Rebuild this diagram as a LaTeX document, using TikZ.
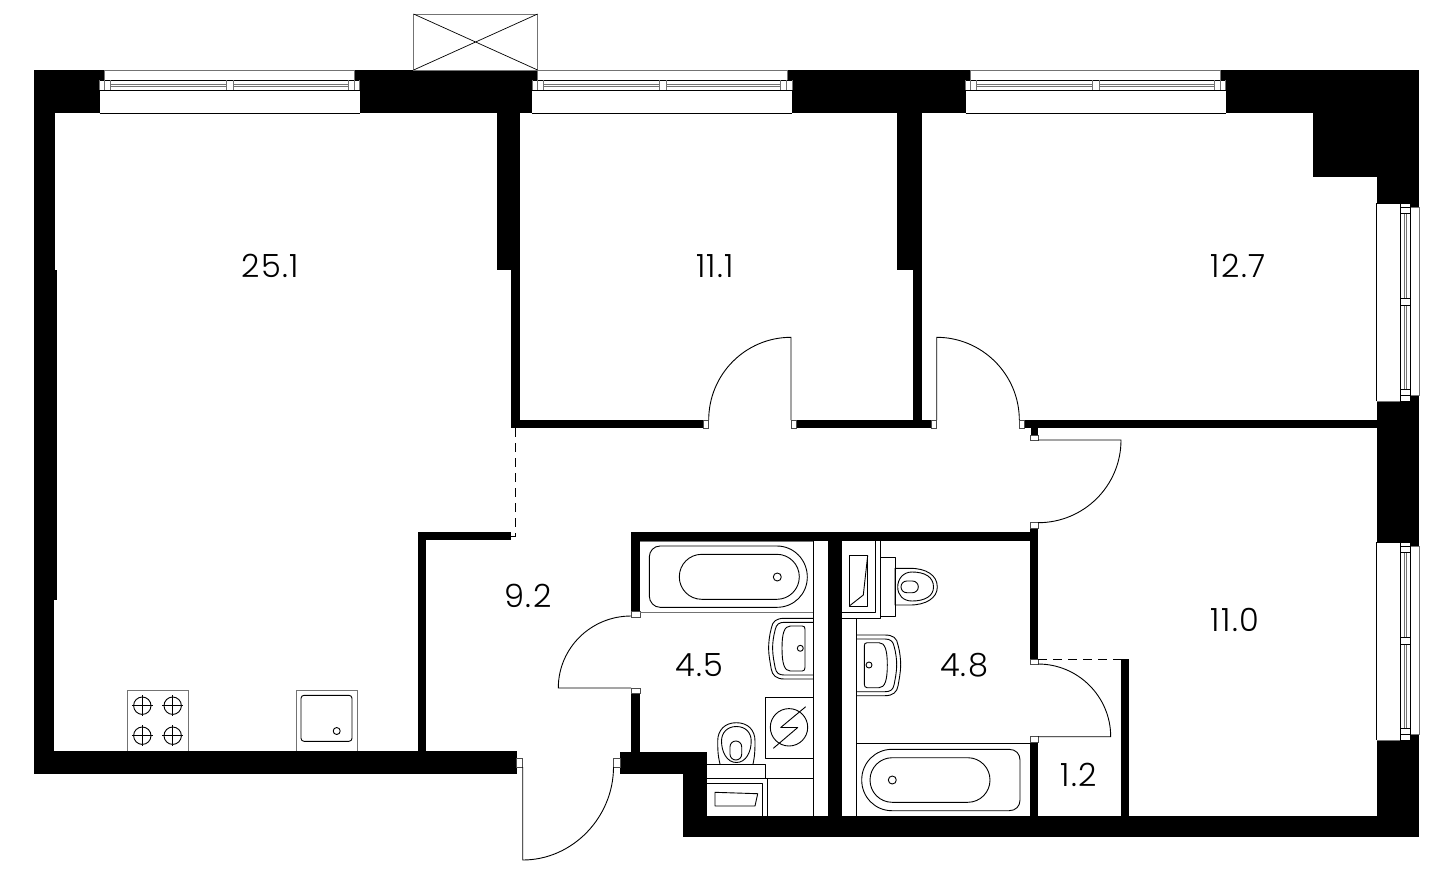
\documentclass[tikz,border=0pt]{standalone}
\usepackage{fontspec}
\setmainfont[LetterSpace=4]{Poppins Light}
\tikzset{
  wall/.style={fill=black},
  thin line/.style={draw=black,line width=0.9pt,line join=round},
  grey line/.style={draw=black!55,line width=1pt},
  stub/.style={draw=black!70,fill=white,line width=0.8pt},
  dashline/.style={draw=black,line width=0.8pt,dash pattern=on 9pt off 6pt},
  area/.style={font=\fontsize{32}{32}\selectfont,inner sep=0pt,text=black}
}
\newcommand{\hwin}[1]{%
\begin{scope}[shift={(#1,0)}]
 \path[fill=white] (0,80) rectangle (260,113);
 \path[fill=white,draw=black!55,line width=1pt] (5,70) rectangle (255,80);
 \draw[thin line] (0,113) -- (260,113);
 \draw[thin line] (0,80) -- (260,80);
 \draw[thin line] (0,90) -- (260,90);
 \draw[grey line] (11,84) -- (127,84) (11,86) -- (127,86) (134,84) -- (248.5,84) (134,86) -- (248.5,86);
 \draw[grey line] (0,80) -- (0,90) (5,80) -- (5,90) (11,80) -- (11,90) (127,80) -- (127,90) (134,80) -- (134,90) (248.5,80) -- (248.5,90) (254.5,80) -- (254.5,90) (260,80) -- (260,90);
\end{scope}}
\newcommand{\vwin}[1]{%
\begin{scope}[shift={(0,#1)}]
 \path[fill=white] (1376.7,0) rectangle (1400,198);
 \path[fill=white,draw=black!55,line width=1pt] (1410,4.5) rectangle (1419.3,192.5);
 \path[fill=white] (1400,0) rectangle (1410,198);
 \draw[thin line] (1376.7,0) -- (1376.7,198);
 \draw[thin line] (1376.7,0) -- (1400,0);
 \draw[grey line] (1376.7,198) -- (1400,198);
 \draw[thin line] (1400,0) rectangle (1410,198);
 \draw[grey line] (1404,10) -- (1404,95.3) (1406,10) -- (1406,95.3) (1404,102.7) -- (1404,186.3) (1406,102.7) -- (1406,186.3);
 \draw[thin line] (1400,4.5) -- (1410,4.5) (1400,10) -- (1410,10) (1400,95.3) -- (1410,95.3) (1400,102.7) -- (1410,102.7) (1400,186.3) -- (1410,186.3) (1400,192) -- (1410,192);
\end{scope}}
\newcommand{\basin}{%
 \draw[thin line] (856,635) -- (885,635) .. controls (893,635) and (897,638) .. (898,645) .. controls (900,652) and (900.7,660) .. (900.7,665) .. controls (900.7,672) and (899,680) .. (898,686) .. controls (897,692) and (893,695.7) .. (885,695.7) -- (856,695.7);
 \draw[thin line] (856,639) -- (885,639) .. controls (890,639) and (893,641) .. (894,646) .. controls (896,653) and (896.7,660) .. (896.7,665) .. controls (896.7,672) and (895,680) .. (894,685) .. controls (893,690) and (890,691.7) .. (885,691.7) -- (856,691.7);
 \draw[thin line] (864.3,646) .. controls (864.3,644) and (865,642.7) .. (867,642.7) -- (879,642.7) .. controls (885,642.7) and (887.3,650) .. (887.3,665) .. controls (887.3,680) and (885,687.7) .. (879,687.7) -- (867,687.7) .. controls (865,687.7) and (864.3,686) .. (864.3,684) -- cycle;
 \draw[thin line] (869,665) circle[radius=3pt];
}
\begin{document}
\begin{tikzpicture}[x=1pt,y=-1pt]
\useasboundingbox (0,0) rectangle (1445,879);
\path[fill=white] (0,0) rectangle (1445,879);
% walls
\fill[wall] (33.5,70) rectangle (1419.3,113);
\fill[wall] (33.5,70) rectangle (55,270);
\fill[wall] (33.5,270) rectangle (57,600);
\fill[wall] (33.5,600) rectangle (54,774.3);
\fill[wall] (33.5,751.3) rectangle (516.7,774.3);
\fill[wall] (496.6,113) rectangle (520,270);
\fill[wall] (511,270) rectangle (520,428.3);
\fill[wall] (511,420) rectangle (703,428.3);
\fill[wall] (796.7,420) rectangle (931.7,428.3);
\fill[wall] (897,113) rectangle (922.3,270);
\fill[wall] (912.7,270) rectangle (922.3,420);
\fill[wall] (1024.3,420) rectangle (1377,428.3);
\fill[wall] (1030.7,428) rectangle (1038.3,435.7);
\fill[wall] (1312.7,113) rectangle (1419.3,176.7);
\fill[wall] (1376.7,176.7) rectangle (1419.3,837);
\fill[wall] (683.3,816) rectangle (1419.3,837);
\fill[wall] (706,817.5) rectangle (735,816);
\fill[wall] (620,751.7) rectangle (706.7,774.3);
\fill[wall] (683.3,774) rectangle (706.7,816);
\fill[wall] (418,531.7) rectangle (511,540);
\fill[wall] (418,531.7) rectangle (426,751.3);
\fill[wall] (631,532.3) rectangle (1038.3,541);
\fill[wall] (631,532.3) rectangle (640,611.7);
\fill[wall] (631,693.5) rectangle (640,752);
\fill[wall] (828.3,541) rectangle (841.7,816);
\fill[wall] (1030,528) rectangle (1038.3,659.3);
\fill[wall] (1030,742) rectangle (1038.3,816);
\fill[wall] (1121,659.3) rectangle (1129.3,816);
% windows
\hwin{99.5}
\hwin{532.4}
\hwin{965.5}
\vwin{203}
\vwin{542}
% vent box
\draw[grey line] (413.6,14) rectangle (537.6,70);
\draw[thin line,line width=0.7pt] (413.6,14) -- (537.6,70) (413.6,70) -- (537.6,14);
% door stubs
\draw[stub] (516.7,758) rectangle (522.7,767);
\draw[stub] (613.5,758) rectangle (620,767);
\draw[stub] (631,611.7) rectangle (640,617);
\draw[stub] (631,688) rectangle (640,693.5);
\draw[stub] (703,420) rectangle (708.7,428.3);
\draw[stub] (791,420) rectangle (796.7,428.3);
\draw[stub] (931.7,420) rectangle (936.7,428.3);
\draw[stub] (1019.3,420) rectangle (1024.3,428.3);
\draw[stub] (1030.7,435.7) rectangle (1038.3,440.3);
\draw[stub] (1030,522.7) rectangle (1038.3,528);
\draw[stub] (1030,659.3) rectangle (1038.3,664);
\draw[stub] (1030,736.7) rectangle (1038.3,742);
% door leaves
\draw[thin line] (522.7,767) -- (522.7,860) .. controls (572.9,860) and (613.5,817) .. (613.5,767);
\draw[thin line] (631,688) -- (558.3,688) .. controls (558.3,648) and (591,616) .. (631,616);
\draw[thin line] (1038,736.7) -- (1110.7,736.7) .. controls (1110.7,696.5) and (1078,664) .. (1038,664);
\draw[thin line] (791,420) -- (791,337.3) .. controls (745.5,337.3) and (708.7,374.3) .. (708.7,420);
\draw[thin line] (936.7,420) -- (936.7,337.3) .. controls (982,337.3) and (1019.3,374.3) .. (1019.3,420);
\draw[thin line] (1038,440) -- (1121,440) .. controls (1121,485.7) and (1084,522.7) .. (1038,522.7);
% openings
\draw[dashline] (515.5,428) -- (515.5,536) -- (511,536);
\draw[dashline] (1038.3,659.3) -- (1121,659.3);
% kitchen
\draw[grey line] (127,751) -- (127,690) -- (188,690) -- (188,751);
\foreach \cx in {142.3,172.7}\foreach \cy in {705.7,735.7}{
  \draw[thin line] (\cx,\cy) circle[radius=8.7pt];
  \draw[thin line,line width=0.8pt] (\cx-10.5,\cy) -- (\cx+10.5,\cy) (\cx,\cy-10.5) -- (\cx,\cy+10.5);
}
\draw[grey line] (296,751) -- (296,690) -- (357,690) -- (357,751);
\draw[thin line,rounded corners=3pt] (301,695.3) rectangle (352,741.3);
\draw[thin line] (336.7,731) circle[radius=3.5pt];
% bathroom 4.5
\draw[thin line] (813.3,541) -- (813.3,816);
\draw[grey line] (640,541) -- (813.3,541);
\draw[grey line] (640,612.7) -- (813.3,612.7);
\draw[thin line] (660,546) -- (777,546) .. controls (794,546) and (807.3,560) .. (807.3,577) .. controls (807.3,594) and (794,607.3) .. (777,607.3) -- (660,607.3) .. controls (654,607.3) and (649.3,602) .. (649.3,596) -- (649.3,557) .. controls (649.3,551) and (654,546) .. (660,546) -- cycle;
\draw[thin line,rounded corners=22.4pt] (679.3,554.3) rectangle (799.3,599.3);
\draw[thin line] (777.3,577) circle[radius=4pt];
\begin{scope}[shift={(1669.3,-16.7)},xscale=-1]
\basin
\end{scope}
% washing machine
\draw[thin line] (813.3,697.3) -- (765,697.3) -- (765,758) -- (813.3,758);
\draw[thin line] (789,727.3) circle[radius=18.7pt];
\draw[thin line] (773.3,748.3) -- (797.7,727.5) -- (780.7,727.5) -- (805.7,706.7);
% toilet 4.5
\draw[thin line] (706.7,764.3) -- (765.3,764.3) -- (765.3,778.3);
\draw[thin line] (706.7,778.3) -- (813.3,778.3);
\draw[thin line] (720,764) .. controls (717.7,755) and (717.7,748) .. (717.7,741) .. controls (717.7,730) and (725,722.7) .. (736.3,722.7) .. controls (748,722.7) and (755,730) .. (755,741) .. controls (755,748) and (755,755) .. (753,764);
\draw[thin line] (736.3,726.5) .. controls (727,726.5) and (721.5,733) .. (721.5,741) .. controls (721.5,752) and (727,762.5) .. (736.3,762.5) .. controls (746,762.5) and (751.2,752) .. (751.2,741) .. controls (751.2,733) and (746,726.5) .. (736.3,726.5) -- cycle;
\draw[thin line,rounded corners=5.8pt] (730,741) rectangle (741.7,760);
\draw[thin line] (706.7,783.3) -- (762.7,783.3) -- (762.7,816);
\draw[thin line] (767.3,778.3) -- (767.3,816);
\draw[thin line] (715,792.3) -- (757.7,793.7) -- (755,806) -- (715,806) -- cycle;
% bathroom 4.8
\draw[thin line] (842,612.7) -- (875.7,612.7) -- (875.7,541);
\draw[thin line] (842,618.3) -- (880.7,618.3) -- (880.7,541);
\draw[thin line] (849.3,555.3) rectangle (867.7,606);
\draw[thin line] (867.7,555.3) -- (863.3,595) -- (849.3,606);
\draw[thin line] (880.7,557.7) rectangle (895,616);
\draw[thin line] (895,568.3) -- (910,568.3) .. controls (926,568.3) and (937.3,575) .. (937.3,587) .. controls (937.3,598) and (926,605) .. (910,605) -- (895,605) -- cycle;
\draw[thin line] (912,572) .. controls (903,572) and (897.7,579) .. (897.7,587) .. controls (897.7,595) and (903,601) .. (912,601) .. controls (925,601) and (933.5,596) .. (933.5,587) .. controls (933.5,577) and (925,572) .. (912,572) -- cycle;
\draw[thin line,rounded corners=5.8pt] (901,581) rectangle (918.3,592.7);
\draw[thin line] (856,618.3) -- (856,816);
\draw[thin line] (856,743.3) -- (1030,743.3);
\basin
% bath 4.8
\draw[thin line] (892,749.3) -- (1009,749.3) .. controls (1016,749.3) and (1020,754) .. (1020,760) -- (1020,800) .. controls (1020,806) and (1016,810.7) .. (1009,810.7) -- (892,810.7) .. controls (875,810.7) and (861.7,797) .. (861.7,780) .. controls (861.7,763) and (875,749.3) .. (892,749.3) -- cycle;
\draw[thin line,rounded corners=22.2pt] (870,757.7) rectangle (990,802.3);
\draw[thin line] (892.3,780) circle[radius=4pt];
% labels
\node[area] (r1) at (270,266) {25.1};
\node[area] (r2) at (715,266) {11.1};
\node[area] (r3) at (1238,266) {12.7};
\node[area] (r4) at (528,596) {9.2};
\node[area] (r5) at (699,665) {4.5};
\node[area] (r6) at (964,665) {4.8};
\node[area] (r7) at (1235,620) {11.0};
\node[area] (r8) at (1079,775) {1.2};
\end{tikzpicture}
\end{document}
